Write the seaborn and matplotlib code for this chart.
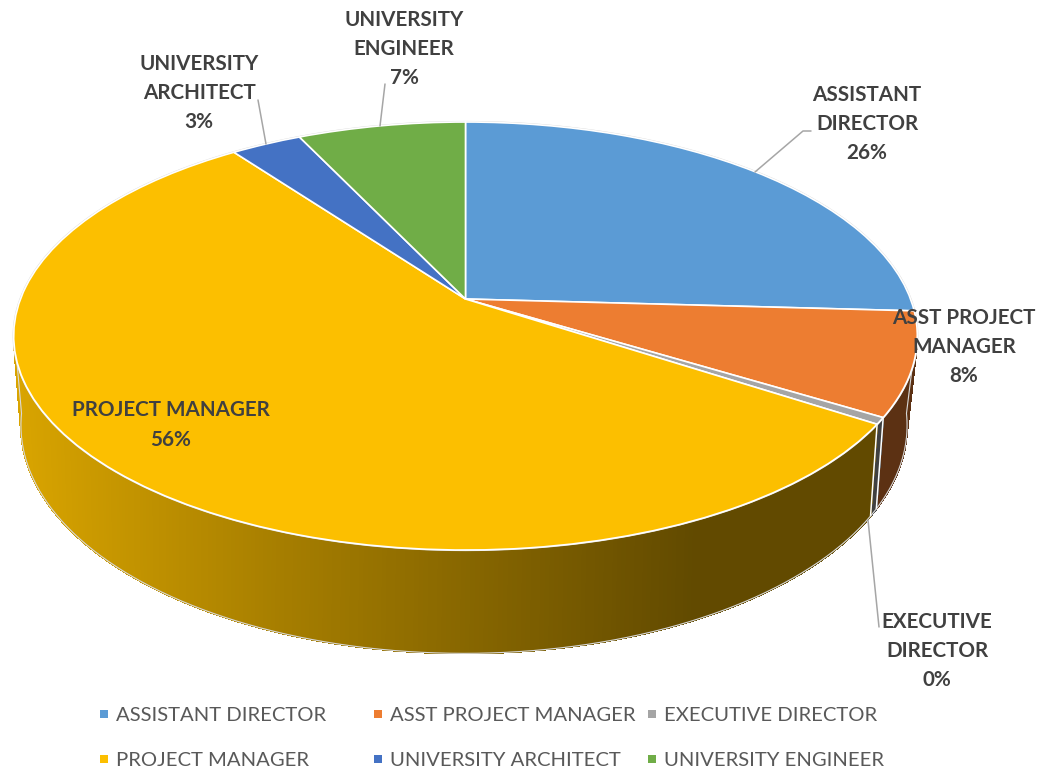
"""3D style pie of staff titles, drawn from a projected seaborn themed pie."""

from __future__ import annotations

import matplotlib

matplotlib.use("Agg")

import matplotlib.pyplot as plt
import numpy as np
import seaborn as sns
from matplotlib.collections import PolyCollection
from matplotlib.transforms import Transform

TITLES = [
    "ASSISTANT DIRECTOR",
    "ASST PROJECT MANAGER",
    "EXECUTIVE DIRECTOR",
    "PROJECT MANAGER",
    "UNIVERSITY ARCHITECT",
    "UNIVERSITY ENGINEER",
]
SHARES = [25.9, 7.8, 0.5, 55.7, 3.0, 7.1]
COLORS = ["#5B9BD5", "#ED7D31", "#A5A5A5", "#FCBF00", "#4472C4", "#70AD47"]
LABEL_LINES = [
    "ASSISTANT\nDIRECTOR",
    "ASST PROJECT\nMANAGER",
    "EXECUTIVE\nDIRECTOR",
    "PROJECT MANAGER",
    "UNIVERSITY\nARCHITECT",
    "UNIVERSITY\nENGINEER",
]
LABEL_XY = [(867, 124), (964, 347), (937, 651), (171, 425), (199, 93), (404, 49)]
LEADERS = [
    [(755, 172), (803, 131), (811, 131)],
    [(868, 520), (879, 627)],
    [(266, 144), (258, 100)],
    [(380, 126), (385, 84)],
]

# camera model for the pie top and the bottom rim, in pixels
TOP_VIEW = dict(cx=465.5, cy=299.0, a=445.0, b=207.6, k=0.173)
BOTTOM_VIEW = dict(cx=464.0, cy=382.0, a=435.0, b=219.8, k=0.19)


def project(u, v, view):
    w = 1 + view["k"] * v
    return view["cx"] + view["a"] * u / w, view["cy"] - view["b"] * v / w


class PerspectiveTransform(Transform):
    input_dims = 2
    output_dims = 2
    is_affine = False

    def __init__(self, view):
        super().__init__()
        self.view = view

    def transform_non_affine(self, values):
        values = np.asarray(values)
        x, y = project(values[:, 0], values[:, 1], self.view)
        return np.column_stack([x, y])


def wall_shade(x):
    return np.interp(x, [15, 280, 690], [0.86, 0.66, 0.39])


def draw_wall(ax, palette):
    edges = np.cumsum([0] + SHARES) * 3.6
    for start, stop, color in zip(edges[:-1], edges[1:], palette):
        low, high = max(start, 98), min(stop, 262)
        if low >= high:
            continue
        theta = np.radians(np.linspace(low, high, int((high - low) * 2) + 2))
        tx, ty = project(np.sin(theta), np.cos(theta), TOP_VIEW)
        bx, by = project(np.sin(theta), np.cos(theta), BOTTOM_VIEW)
        quads = [
            [(tx[i], ty[i]), (tx[i + 1], ty[i + 1]), (bx[i + 1], by[i + 1]), (bx[i], by[i])]
            for i in range(len(theta) - 1)
        ]
        shades = wall_shade((tx[:-1] + tx[1:]) / 2)
        faces = [tuple(np.array(color) * s) for s in shades]
        ax.add_collection(
            PolyCollection(quads, facecolors=faces, edgecolors=faces, linewidths=0.8, antialiaseds=False, zorder=1)
        )
        ax.plot(bx, by, color="#D9D9D9", lw=0.8, zorder=2)
        # white seams where two slices meet on the wall
        if 98 < stop < 262:
            ax.plot([tx[-1], bx[-1]], [ty[-1], by[-1]], color="white", lw=1.1, zorder=2)
        # thin light edge along the silhouette of the wall
        if low == 98:
            ax.plot([tx[0], bx[0]], [ty[0], by[0]], color="#D9D9D9", lw=0.8, zorder=2)
        if high == 262:
            ax.plot([tx[-1], bx[-1]], [ty[-1], by[-1]], color="#D9D9D9", lw=0.8, zorder=2)


def main():
    sns.set_theme(style="white")
    plt.rcParams["font.family"] = ["Lato", "DejaVu Sans"]
    palette = sns.color_palette(COLORS)

    fig = plt.figure(figsize=(10.47, 7.69), dpi=100)
    ax = fig.add_axes([0, 0, 1, 1])
    draw_wall(ax, palette)

    theta = np.radians(np.linspace(0, 360, 721))
    ax.plot(*project(np.sin(theta), np.cos(theta), TOP_VIEW), color="#D9D9D9", lw=1.6, zorder=2)

    wedges, _ = ax.pie(
        SHARES,
        colors=palette,
        startangle=90,
        counterclock=False,
        wedgeprops={"edgecolor": "white", "linewidth": 1.2, "zorder": 3},
    )
    top_transform = PerspectiveTransform(TOP_VIEW) + ax.transData
    for wedge in wedges:
        wedge.set_transform(top_transform)
        wedge.set_clip_on(False)

    ax.set_aspect("auto")
    ax.set_xlim(0, 1047)
    ax.set_ylim(769, 0)
    ax.axis("off")

    for points in LEADERS:
        xs, ys = zip(*points)
        ax.plot(xs, ys, color="#A6A6A6", lw=1.1, zorder=4)

    for lines, share, (x, y) in zip(LABEL_LINES, SHARES, LABEL_XY):
        ax.text(
            x, y, f"{lines}\n{share:.0f}%",
            ha="center", va="center", fontsize=14.9, fontweight="bold",
            color="#404040", linespacing=1.57, zorder=5,
        )

    # legend laid out on an even 3 column grid like the original
    for i, (title, color) in enumerate(zip(TITLES, palette)):
        col, row = i % 3, i // 3
        x = 104 + 274 * col
        y = 714 + 45 * row
        ax.scatter([x], [y], marker="s", s=40, color=color, linewidths=0, zorder=5)
        ax.text(x + 12, y + 1.5, title, ha="left", va="center", fontsize=14.6, color="#595959", zorder=5)

    fig.savefig("out.png", dpi=100)
    plt.close(fig)


if __name__ == "__main__":
    main()
